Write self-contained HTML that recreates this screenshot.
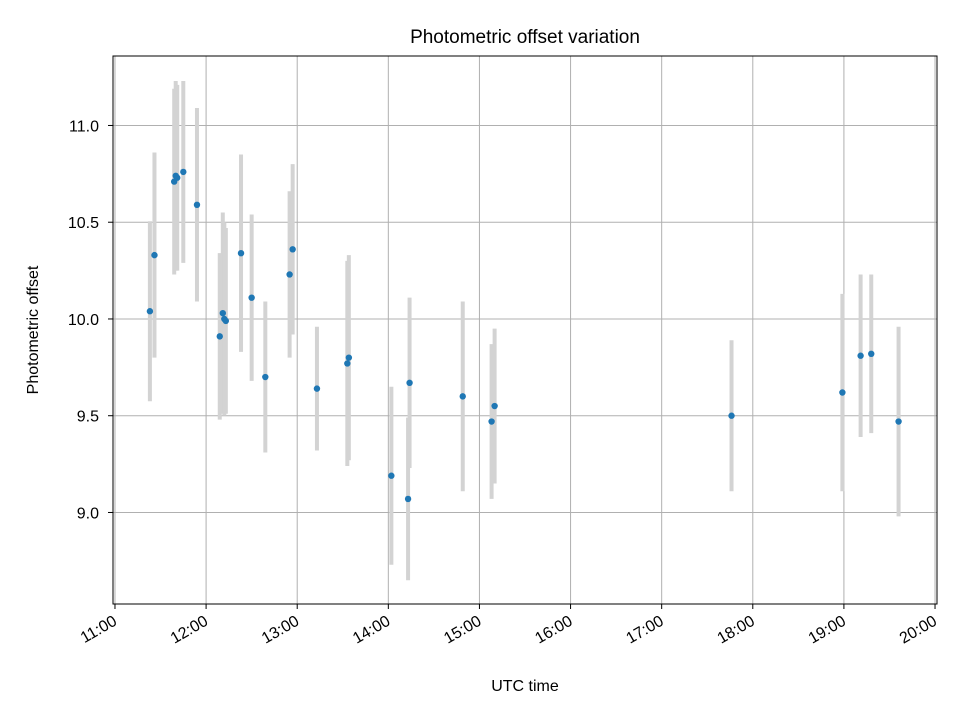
<!DOCTYPE html>
<html><head><meta charset="utf-8"><style>body{margin:0;background:#fff}svg{font-family:"Liberation Sans","DejaVu Sans",sans-serif}</style></head>
<body>
<svg id="chart" width="960" height="720"></svg>
<script>
const times=["11:23","11:26","11:39","11:40","11:41","11:45","11:54","12:09","12:11","12:12","12:13","12:23","12:30","12:39","12:55","12:57","13:13","13:33","13:34","14:02","14:13","14:14","14:49","15:08","15:10","17:46","18:59","19:11","19:18","19:36"];
const values=[10.04,10.33,10.71,10.74,10.73,10.76,10.59,9.91,10.03,10.00,9.99,10.34,10.11,9.70,10.23,10.36,9.64,9.77,9.80,9.19,9.07,9.67,9.60,9.47,9.55,9.50,9.62,9.81,9.82,9.47];
const errors=[0.465,0.53,0.48,0.49,0.48,0.47,0.50,0.43,0.52,0.50,0.48,0.51,0.43,0.39,0.43,0.44,0.32,0.53,0.53,0.46,0.42,0.44,0.49,0.40,0.40,0.39,0.51,0.42,0.41,0.49];
const xTicks=["11:00","12:00","13:00","14:00","15:00","16:00","17:00","18:00","19:00","20:00"];
const yTicks=[9.0,9.5,10.0,10.5,11.0];
const NS="http://www.w3.org/2000/svg",svg=document.getElementById('chart');
const L=113,R=937,T=56,B=604,x0=-1.3,x1=541.3,y0=8.527,y1=11.359;
const tm=s=>{const[h,m]=s.split(':').map(Number);return (h-11)*60+m;};
const X=v=>L+(v-x0)/(x1-x0)*(R-L);
const Y=v=>B-(v-y0)/(y1-y0)*(B-T);
function el(t,a,txt){const e=document.createElementNS(NS,t);for(const k in a)e.setAttribute(k,a[k]);if(txt!=null)e.textContent=txt;svg.appendChild(e);return e;}
xTicks.forEach(t=>{const x=X(tm(t));
const g=el('line',{x1:x,x2:x,y1:T,y2:B,stroke:'#b0b0b0','stroke-width':1});

const k=el('line',{x1:x,x2:x,y1:B,y2:B+5,stroke:'#000'});

const lb=el('text',{x:x+3,y:B+20,'font-size':16,'text-anchor':'end',transform:`rotate(-30 ${x+3} ${B+20})`},t);
});
yTicks.forEach(v=>{const y=Y(v);
const g=el('line',{x1:L,x2:R,y1:y,y2:y,stroke:'#b0b0b0','stroke-width':1});

const k=el('line',{x1:L-5,x2:L,y1:y,y2:y,stroke:'#000'});

const lb=el('text',{x:L-14,y:y+6,'font-size':16,'text-anchor':'end'},v.toFixed(1));
});
times.forEach((t,i)=>{const x=X(tm(t));
const b=el('line',{x1:x,x2:x,y1:Y(values[i]+errors[i]),y2:Y(values[i]-errors[i]),stroke:'#d3d3d3','stroke-width':4});
});
times.forEach((t,i)=>{
const c=el('circle',{cx:X(tm(t)),cy:Y(values[i]),r:3.2,fill:'#1f77b4'});
});
const f=el('rect',{x:L,y:T,width:R-L,height:B-T,fill:'none',stroke:'#000','stroke-width':1});

const ti=el('text',{x:(L+R)/2,y:43,'font-size':19,'text-anchor':'middle'},'Photometric offset variation');

const xt=el('text',{x:(L+R)/2,y:691,'font-size':16,'text-anchor':'middle'},'UTC time');

const yt=el('text',{x:38,y:(T+B)/2,'font-size':16,'text-anchor':'middle',transform:`rotate(-90 38 ${(T+B)/2})`},'Photometric offset');

</script>
</body></html>
